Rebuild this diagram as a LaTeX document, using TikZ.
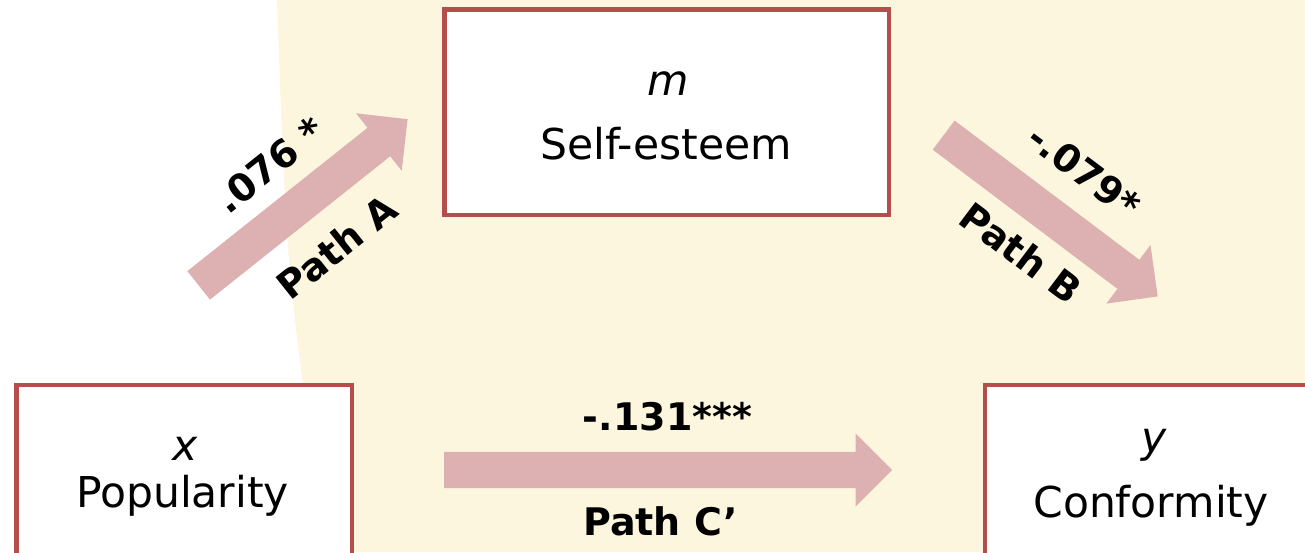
\documentclass[tikz,border=0pt]{standalone}
\usepackage{fontspec}
\setmainfont{DejaVu Sans}
\usetikzlibrary{shapes.arrows}

\definecolor{cream}{HTML}{FDF6DE}
\definecolor{boxred}{HTML}{B24F4B}
\definecolor{arrowpink}{HTML}{DDB1B1}

\tikzset{
  varbox/.style={draw=boxred, line width=4.5pt, fill=white, inner sep=0pt},
  boxtext/.style={anchor=base, inner sep=0pt, font=\fontsize{42.5}{50}\selectfont},
  vartext/.style={boxtext, font=\fontsize{42.5}{50}\selectfont\itshape},
  blockarrow/.style={single arrow, fill=arrowpink, draw=none, anchor=tail,
    inner xsep=0pt, inner ysep=18pt, single arrow head extend=18.5pt,
    single arrow tip angle=90},
  coef/.style={inner sep=0pt, font=\fontsize{38}{45}\selectfont\bfseries},
  pathlbl/.style={inner sep=0pt, font=\fontsize{38}{45}\selectfont\bfseries}
}

\begin{document}
\begin{tikzpicture}[x=1pt, y=-1pt]
  \useasboundingbox (0,0) rectangle (1305,552);
  \clip (0,0) rectangle (1305,552);

  % shaded region behind the mediator and outcome
  \fill[cream] (277,0) .. controls (286.7,276) .. (327,552)
               -- (1305,552) -- (1305,0) -- cycle;

  % variable boxes
  \node[varbox, minimum width=444.5pt, minimum height=205.5pt] (mbox) at (666.5,112) {};
  \node[varbox, minimum width=335.5pt, minimum height=234.75pt] (xbox) at (184,502.6) {};
  \node[varbox, minimum width=414.75pt, minimum height=234.75pt] (ybox) at (1192.6,502.6) {};

  % box texts
  \node[vartext] (mname) at (668,95) {m};
  \node[boxtext] (mlabel) at (666,159) {Self-esteem};
  \node[vartext] (xname) at (185,460) {x};
  \node[boxtext] (xlabel) at (182.5,507) {Popularity};
  \node[vartext] (yname) at (1154,452) {y};
  \node[boxtext] (ylabel) at (1151,517) {Conformity};

  % path arrows, placed by their tails
  \node[blockarrow, minimum height=267pt, rotate=38.5] (pathA) at (198.5,285.5) {};
  \node[blockarrow, minimum height=268pt, rotate=-37] (pathB) at (943.5,135) {};
  \node[blockarrow, minimum height=448pt] (pathC) at (444,470) {};

  % coefficients and path names
  \node[coef, rotate=38.5] (coefA) at (270,165) {.076 *};
  \node[pathlbl, rotate=38.5] (lblA) at (336.5,247) {Path A};
  \node[coef, rotate=-37] (coefB) at (1084,171) {-.079*};
  \node[pathlbl, rotate=-37] (lblB) at (1021,253) {Path B};
  \node[coef] (coefC) at (667.5,417) {-.131***};
  \node[pathlbl] (lblC) at (660.5,521) {Path C’};
\end{tikzpicture}
\end{document}
